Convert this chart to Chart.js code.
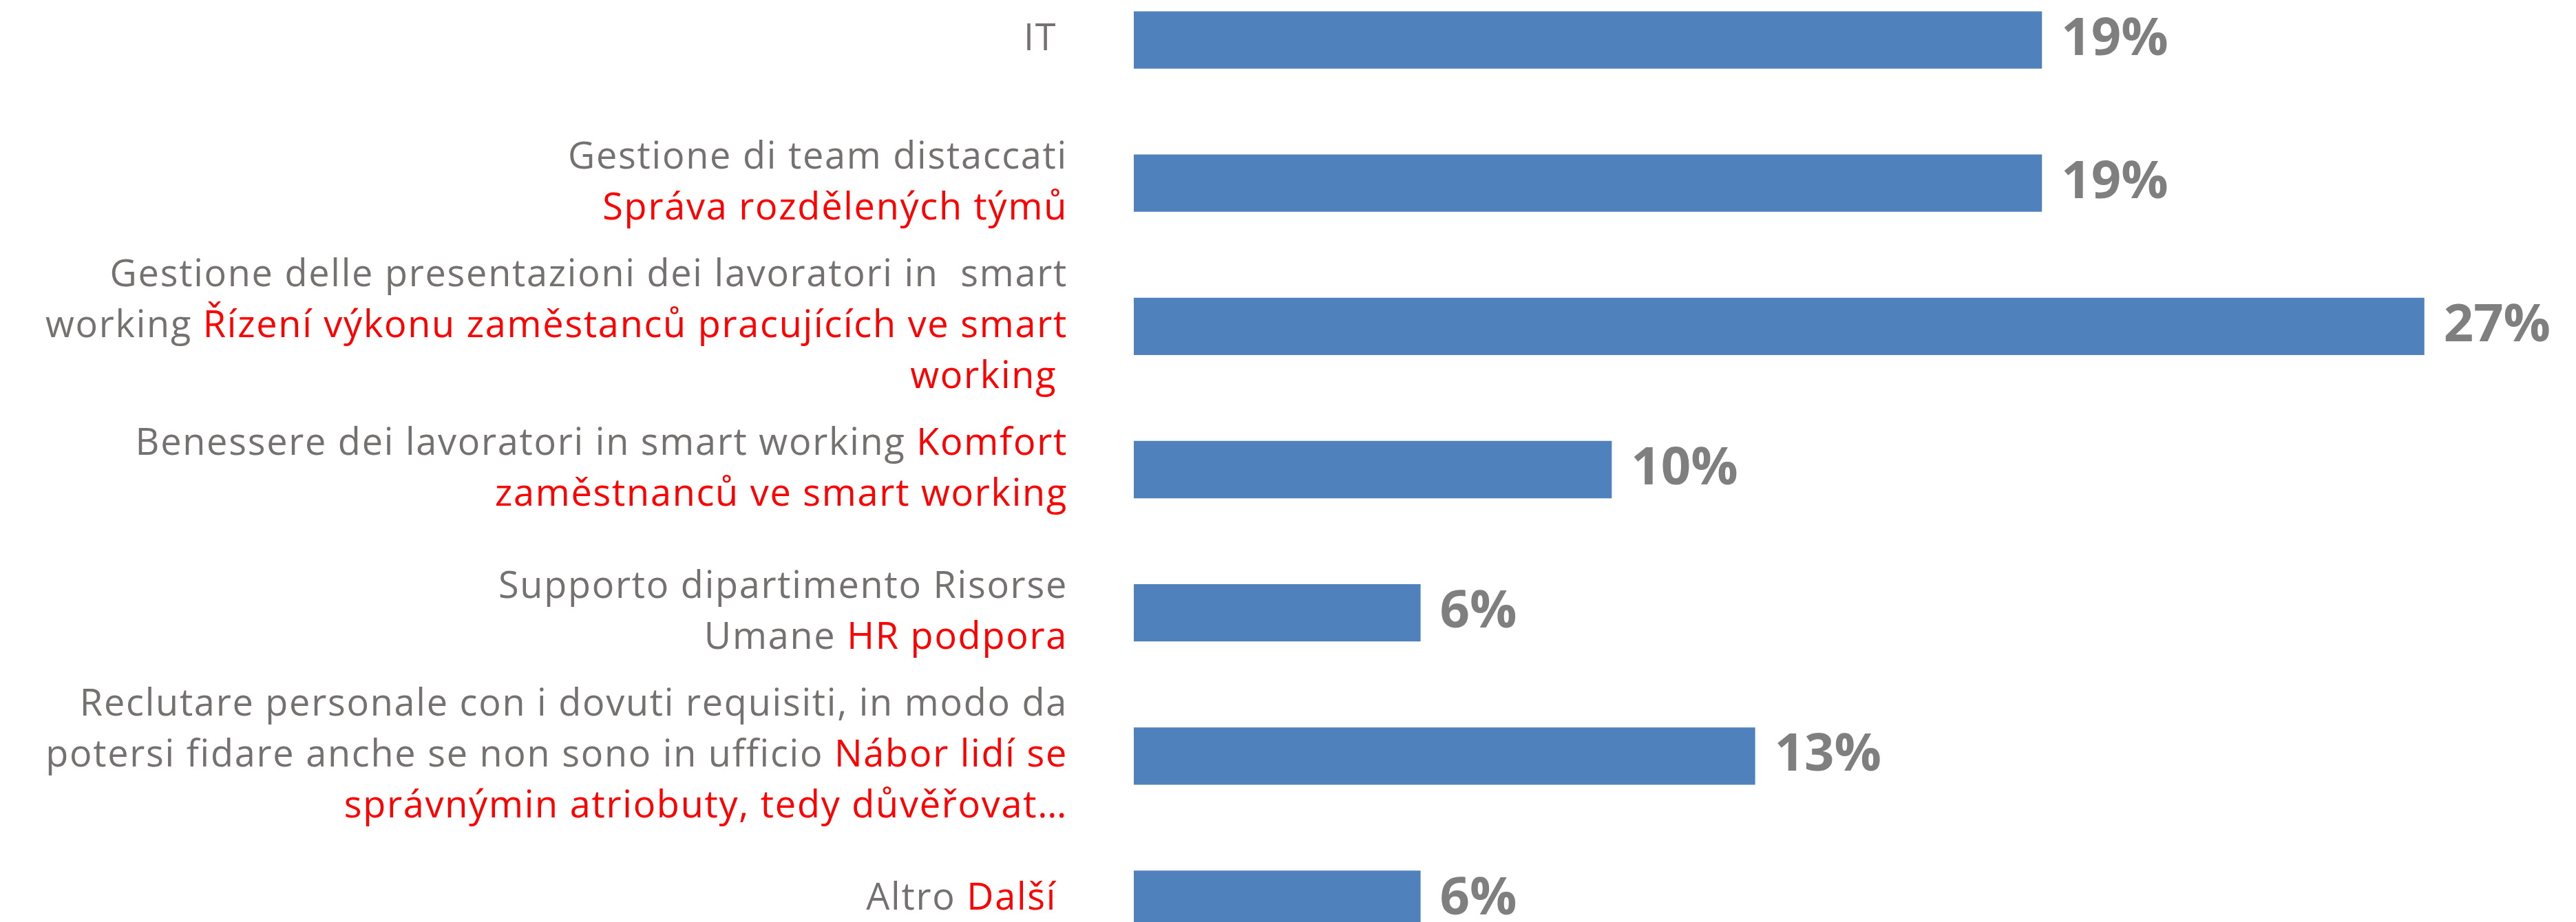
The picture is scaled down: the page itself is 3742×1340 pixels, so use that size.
<!DOCTYPE html>
<html>
<head>
<meta charset="utf-8">
<script src="https://cdn.jsdelivr.net/npm/chart.js@4/dist/chart.umd.min.js"></script>
<style>
html, body { margin: 0; padding: 0; background: #fff; overflow: hidden; width: 3742px; height: 1340px; }
#wrap { position: absolute; left: 0; top: -46px; width: 3742px; height: 1457px; }
</style>
</head>
<body>
<div id="wrap"><canvas id="chart"></canvas></div>
<script>
// Etichette: parte italiana (grigia) + parte ceca (rossa), '\n' = a capo
const labelsIt = [
    'IT ',
    'Gestione di team distaccati\n',
    'Gestione delle presentazioni dei lavoratori in  smart\nworking ',
    'Benessere dei lavoratori in smart working ',
    'Supporto dipartimento Risorse\nUmane ',
    'Reclutare personale con i dovuti requisiti, in modo da\npotersi fidare anche se non sono in ufficio ',
    'Altro '
];
const labelsCz = [
    '',
    'Správa rozdělených týmů',
    'Řízení výkonu zaměstanců pracujících ve smart\nworking ',
    'Komfort\nzaměstnanců ve smart working',
    'HR podpora',
    'Nábor lidí se\nsprávnýmin atriobuty, tedy důvěřovat…',
    'Další '
];
const values = [19, 19, 27, 10, 6, 13, 6];

const GREY = '#767171';
const RED = '#FF0000';
const LINE_H = 74;
const TEXT_RIGHT = 1551;

// disegna le etichette multicolore e le percentuali
const customLabels = {
    id: 'customLabels',
    afterDraw(chart) {
        const ctx = chart.ctx;
        const yScale = chart.scales.y;
        ctx.save();
        ctx.textBaseline = 'middle';
        ctx.textAlign = 'left';
        ctx.font = '54px "Open Sans"';
        ctx.letterSpacing = '1.75px';
        labelsIt.forEach((it, i) => {
            const lines = [[]];
            [[it, GREY], [labelsCz[i], RED]].forEach(([txt, col]) => {
                txt.split('\n').forEach((part, k) => {
                    if (k > 0) lines.push([]);
                    if (part) lines[lines.length - 1].push([part, col]);
                });
            });
            const cy = yScale.getPixelForValue(i);
            const top = cy - (lines.length - 1) * LINE_H / 2;
            lines.forEach((segs, j) => {
                const w = segs.reduce((s, [t]) => s + ctx.measureText(t).width, 0);
                let x = TEXT_RIGHT - w;
                segs.forEach(([t, c]) => {
                    ctx.fillStyle = c;
                    ctx.fillText(t, x, top + j * LINE_H);
                    x += ctx.measureText(t).width;
                });
            });
        });

        const meta = chart.getDatasetMeta(0);
        ctx.letterSpacing = '0px';
        ctx.font = 'bold 76px "Open Sans"';
        ctx.fillStyle = '#7F7F7F';
        meta.data.forEach((bar, i) => {
            ctx.fillText(values[i] + '%', bar.x + 28, bar.y);
        });
        ctx.restore();
    }
};

const ctx = document.getElementById('chart').getContext('2d');
const myChart = new Chart(ctx, {
    type: 'bar',
    data: {
        labels: labelsIt.map((it, i) => it + labelsCz[i]),
        datasets: [{
            data: values,
            backgroundColor: '#4F81BD',
            borderWidth: 0,
            categoryPercentage: 1,
            barPercentage: 0.4
        }]
    },
    options: {
        indexAxis: 'y',
        responsive: true,
        maintainAspectRatio: false,
        animation: false,
        layout: { padding: { top: 0, bottom: 0, left: 0, right: 12 } },
        plugins: { legend: { display: false }, tooltip: { enabled: false } },
        scales: {
            x: { display: false, min: 0, max: 30 },
            y: {
                ticks: { display: false },
                grid: { display: false },
                border: { display: false },
                afterFit(scale) { scale.width = 1647; }
            }
        }
    },
    plugins: [customLabels]
});
</script>
</body>
</html>
